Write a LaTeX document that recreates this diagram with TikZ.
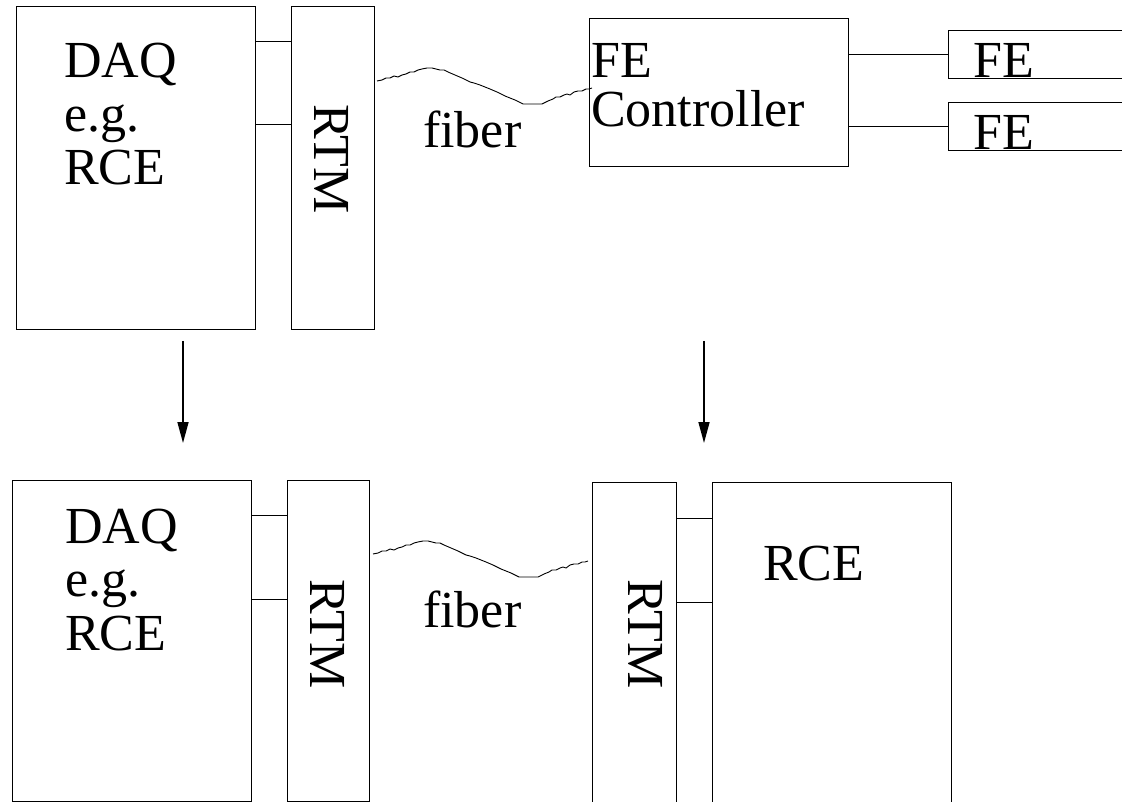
\documentclass[tikz,border=0pt]{standalone}
\usepackage{fontspec}
\setmainfont{Liberation Serif}
\usetikzlibrary{arrows.meta}
\begin{document}
\begin{tikzpicture}[x=1pt,y=-1pt,
  box/.style={draw, line width=1pt, inner sep=0pt, anchor=north west},
  lbl/.style={inner sep=0pt, font=\fontsize{52}{53.5}\selectfont},
  conn/.style={line width=1pt},
  fiberline/.style={line width=0.9pt},
  bigarrow/.style={line width=1.6pt, -{Triangle[length=21pt,width=11pt]}}]
\useasboundingbox (0,0) rectangle (1122,802);
\clip (0,0) rectangle (1122,802);
% ---------- top row ----------
\node[box, minimum width=239pt, minimum height=323pt] (daqA) at (16,6) {};
\node[box, minimum width=83pt, minimum height=323pt] (rtmA) at (291,6) {};
\node[box, minimum width=259pt, minimum height=148pt] (ctrl) at (589,18) {};
\node[box, minimum width=200pt, minimum height=48pt] (feA) at (948,30) {};
\node[box, minimum width=200pt, minimum height=48pt] (feB) at (948,102) {};
\draw[conn] ([yshift=-36pt]daqA.north east) -- ([yshift=-36pt]rtmA.north west);
\draw[conn] ([yshift=-119pt]daqA.north east) -- ([yshift=-119pt]rtmA.north west);
\draw[conn] (ctrl.east |- feA.west) -- (feA.west);
\draw[conn] (ctrl.east |- feB.west) -- (feB.west);
\node[lbl, align=left, anchor=base west] (daqAt) at (64,185) {DAQ\\e.g.\\RCE};
\node[lbl, rotate=-90] (rtmAt) at (332,159) {RTM};
\node[lbl, anchor=base west] (fibAt) at (423,148) {fiber};
\node[lbl, align=left, anchor=base west, font=\fontsize{52}{49}\selectfont] (ctrlt) at (591,127) {FE\\Controller};
\node[lbl, anchor=base west] (feAt) at (973,78) {FE};
\node[lbl, anchor=base west] (feBt) at (973,150) {FE};
\def\fiberpath{(377,81) -- (382,80) -- (386,78) -- (390,78) -- (394,76) -- (398,77) -- (402,75) -- (406,74) -- (410,72) -- (414,72) -- (418,70) -- (422,69) -- (427,68) -- (432,68) -- (436,69) -- (440,70) -- (444,70) -- (448,72) -- (455,75) -- (462,78) -- (470,82) -- (474,83) -- (480,85) -- (490,89) -- (497,92) -- (505,96) -- (515,100) -- (523,104) -- (542,104) -- (548,101) -- (553,99) -- (556,97) -- (560,97) -- (564,95) -- (567,94) -- (570,95) -- (574,92) -- (578,91) -- (582,91) -- (586,89) -- (589,89) -- (592,88)}
\draw[fiberline] \fiberpath;
% ---------- arrows ----------
\coordinate (arLs) at (183,341);
\coordinate (arLe) at (183,443);
\coordinate (arRs) at (704,341);
\coordinate (arRe) at (704,443);
\draw[bigarrow] (arLs) -- (arLe);
\draw[bigarrow] (arRs) -- (arRe);
% ---------- bottom row ----------
\node[box, minimum width=239pt, minimum height=321pt] (daqB) at (12,480) {};
\node[box, minimum width=82pt, minimum height=321pt] (rtmB) at (287,480) {};
\node[box, minimum width=84pt, minimum height=340pt] (rtmC) at (592,482) {};
\node[box, minimum width=239pt, minimum height=340pt] (rce) at (712,482) {};
\draw[conn] ([yshift=-35pt]daqB.north east) -- ([yshift=-35pt]rtmB.north west);
\draw[conn] ([yshift=-119pt]daqB.north east) -- ([yshift=-119pt]rtmB.north west);
\draw[conn] ([yshift=-36pt]rtmC.north east) -- ([yshift=-36pt]rce.north west);
\draw[conn] ([yshift=-120pt]rtmC.north east) -- ([yshift=-120pt]rce.north west);
\node[lbl, align=left, anchor=base west] (daqBt) at (65,650) {DAQ\\e.g.\\RCE};
\node[lbl, rotate=-90] (rtmBt) at (328,634) {RTM};
\node[lbl, rotate=-90] (rtmCt) at (646,634) {RTM};
\node[lbl, anchor=base west] (fibBt) at (423,627) {fiber};
\node[lbl, anchor=base west] (rcet) at (763,580) {RCE};
\begin{scope}[shift={(-4,473)}]
\draw[fiberline] \fiberpath;
\end{scope}
\end{tikzpicture}
\end{document}
